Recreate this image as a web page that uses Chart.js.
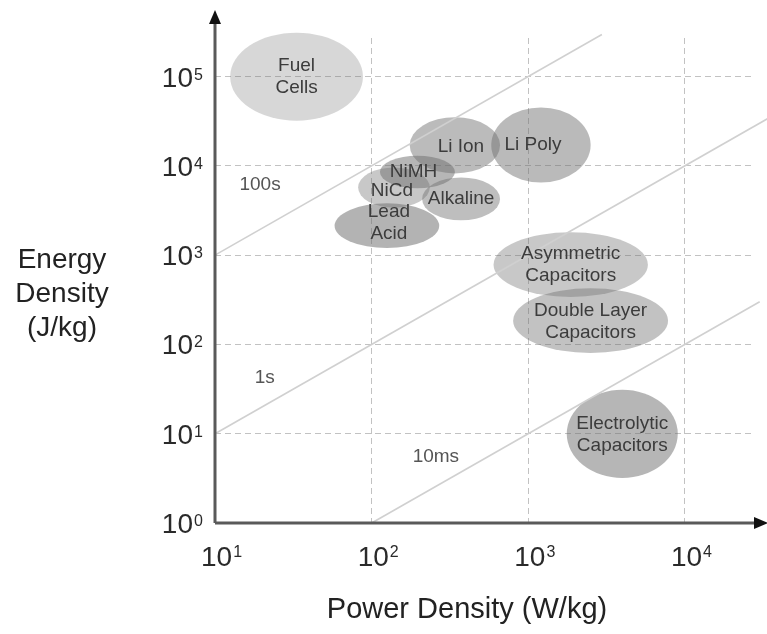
<!DOCTYPE html>
<html>
<head>
<meta charset="utf-8">
<script src="https://cdn.jsdelivr.net/npm/chart.js@4/dist/chart.umd.min.js"></script>
<style>
  html, body { margin: 0; padding: 0; background: #ffffff; }
  #wrap { width: 767px; height: 634px; }
</style>
</head>
<body>
<div id="wrap"><canvas id="ragone" width="767" height="634"></canvas></div>
<script>
// Storage technologies: each spans a range of power density (W/kg) and energy density (J/kg)
const techNames = ['Fuel Cells', 'Li Ion', 'Li Poly', 'NiCd', 'NiMH', 'Lead Acid', 'Alkaline',
                   'Asymmetric Capacitors', 'Double Layer Capacitors', 'Electrolytic Capacitors'];
const techLabels = [['Fuel', 'Cells'], ['Li Ion'], ['Li Poly'], ['NiCd'], ['NiMH'], ['Lead', 'Acid'],
                    ['Alkaline'], ['Asymmetric', 'Capacitors'], ['Double Layer', 'Capacitors'],
                    ['Electrolytic', 'Capacitors']];
const powerMin  = [12.5,   175,   580,  82,   113,   58,   210,  600,  800, 1760];
const powerMax  = [88,     660,  2500, 235,   340,  270,   660, 5800, 7800, 9000];
const energyMin = [32000, 8200,  6500, 3400,  5600, 1200,  2450,  340,   80,  3.2];
const energyMax = [310000, 35000, 45000, 9600, 13000, 3800, 7400, 1800,  425,   31];

// Constant discharge-time lines (energy / power = time)
const timeNames = ['100s', '1s', '10ms'];
const lineStartPower  = [10,   10,  100];
const lineStartEnergy = [1000, 10,  1];
const lineEndPower    = [2950, 33900, 30000];
const lineEndEnergy   = [295000, 33900, 300];
const timeLabelPower  = [19.4, 20.8, 257];
const timeLabelEnergy = [6200, 42,   5.5];

// Axis ticks (decades)
const powerTicks  = [10, 100, 1000, 10000];
const energyTicks = [1, 10, 100, 1000, 10000, 100000];

// Styling
const ellipseAlpha = [0.28, 0.47, 0.48, 0.38, 0.50, 0.52, 0.45, 0.38, 0.42, 0.50];
const labelNudge = [[0, 0], [6, 1], [-8, 0], [-2, 3], [-4, 0], [2, -3], [0, 0], [0, 0], [0, 1], [0, 1]];
const FONT = '"Liberation Sans", Arial, sans-serif';

const ragonePlugin = {
  id: 'ragone',
  beforeDatasetsDraw(chart) {
    const { ctx, scales: { x, y } } = chart;
    ctx.save();
    techNames.forEach((name, i) => {
      const x0 = x.getPixelForValue(powerMin[i]);
      const x1 = x.getPixelForValue(powerMax[i]);
      const y0 = y.getPixelForValue(energyMax[i]);
      const y1 = y.getPixelForValue(energyMin[i]);
      ctx.beginPath();
      ctx.ellipse((x0 + x1) / 2, (y0 + y1) / 2, (x1 - x0) / 2, (y1 - y0) / 2, 0, 0, Math.PI * 2);
      ctx.fillStyle = 'rgba(110,110,110,' + ellipseAlpha[i] + ')';
      ctx.fill();
    });
    ctx.restore();
  },
  afterDatasetsDraw(chart) {
    const { ctx, scales: { x, y } } = chart;
    ctx.save();
    ctx.textAlign = 'center';
    ctx.textBaseline = 'middle';
    ctx.fillStyle = '#3c3c3c';
    ctx.font = '19px ' + FONT;
    techNames.forEach((name, i) => {
      const cx = (x.getPixelForValue(powerMin[i]) + x.getPixelForValue(powerMax[i])) / 2 + labelNudge[i][0];
      const cy = (y.getPixelForValue(energyMin[i]) + y.getPixelForValue(energyMax[i])) / 2 + labelNudge[i][1];
      const lines = techLabels[i];
      const lh = 22;
      lines.forEach((t, k) => {
        ctx.fillText(t, cx, cy + (k - (lines.length - 1) / 2) * lh);
      });
    });
    // discharge time annotations
    ctx.fillStyle = '#555555';
    timeNames.forEach((t, i) => {
      ctx.fillText(t, x.getPixelForValue(timeLabelPower[i]), y.getPixelForValue(timeLabelEnergy[i]));
    });
    ctx.restore();
  },
  afterDraw(chart) {
    const { ctx, chartArea: a, scales: { x, y } } = chart;
    ctx.save();
    // axis lines
    ctx.strokeStyle = '#5a5a5a';
    ctx.lineWidth = 3;
    ctx.beginPath();
    ctx.moveTo(a.left, a.bottom);
    ctx.lineTo(a.left, 20);
    ctx.moveTo(a.left, a.bottom);
    ctx.lineTo(758, a.bottom);
    ctx.stroke();
    // arrow heads
    ctx.fillStyle = '#111111';
    ctx.beginPath();
    ctx.moveTo(a.left, 10);
    ctx.lineTo(a.left - 6, 24);
    ctx.lineTo(a.left + 6, 24);
    ctx.closePath();
    ctx.fill();
    ctx.beginPath();
    ctx.moveTo(768, a.bottom);
    ctx.lineTo(754, a.bottom - 6);
    ctx.lineTo(754, a.bottom + 6);
    ctx.closePath();
    ctx.fill();

    // tick labels as 10 with a superscript exponent
    ctx.fillStyle = '#2a2a2a';
    ctx.textBaseline = 'alphabetic';
    const big = '28px ' + FONT, small = '16px ' + FONT;
    energyTicks.forEach(v => {
      const py = y.getPixelForValue(v);
      const exp = String(Math.round(Math.log10(v)));
      ctx.font = big; ctx.textAlign = 'right';
      ctx.fillText('10', a.left - 22, py + 10);
      ctx.font = small; ctx.textAlign = 'left';
      ctx.fillText(exp, a.left - 21, py + 3);
    });
    powerTicks.forEach(v => {
      const px = x.getPixelForValue(v);
      const exp = String(Math.round(Math.log10(v)));
      ctx.font = big; ctx.textAlign = 'left';
      ctx.fillText('10', px - 14, a.bottom + 43);
      const w = ctx.measureText('10').width;
      ctx.font = small;
      ctx.fillText(exp, px - 14 + w + 1, a.bottom + 34);
    });

    // axis titles
    ctx.fillStyle = '#222222';
    ctx.font = '28px ' + FONT;
    ctx.textAlign = 'center';
    ['Energy', 'Density', '(J/kg)'].forEach((t, k) => ctx.fillText(t, 62, 268 + k * 34));
    ctx.font = '29px ' + FONT;
    ctx.fillText('Power Density (W/kg)', 467, 618);
    ctx.restore();
  }
};

const lineData = timeNames.map((name, i) => ({
  label: name,
  data: [{ x: lineStartPower[i], y: lineStartEnergy[i] }, { x: lineEndPower[i], y: lineEndEnergy[i] }],
  showLine: true,
  borderColor: '#d0d0d0',
  borderWidth: 1.6,
  pointRadius: 0,
  clip: false
}));

const gridStyle = { color: '#c2c2c2', lineWidth: 1, drawTicks: false };

new Chart(document.getElementById('ragone'), {
  type: 'scatter',
  data: { datasets: lineData },
  options: {
    responsive: false,
    animation: false,
    events: [],
    layout: { padding: { left: 215, right: 12, top: 38, bottom: 111 } },
    plugins: { legend: { display: false }, tooltip: { enabled: false } },
    scales: {
      x: {
        type: 'logarithmic', min: 10, max: 28000,
        afterBuildTicks: s => { s.ticks = powerTicks.map(v => ({ value: v })); },
        afterFit: s => { s.height = 0; },
        ticks: { display: false },
        grid: gridStyle,
        border: { display: false, dash: [6, 4] }
      },
      y: {
        type: 'logarithmic', min: 1, max: 270000,
        afterBuildTicks: s => { s.ticks = energyTicks.map(v => ({ value: v })); },
        afterFit: s => { s.width = 0; },
        ticks: { display: false },
        grid: gridStyle,
        border: { display: false, dash: [6, 4] }
      }
    }
  },
  plugins: [ragonePlugin]
});
</script>
</body>
</html>
